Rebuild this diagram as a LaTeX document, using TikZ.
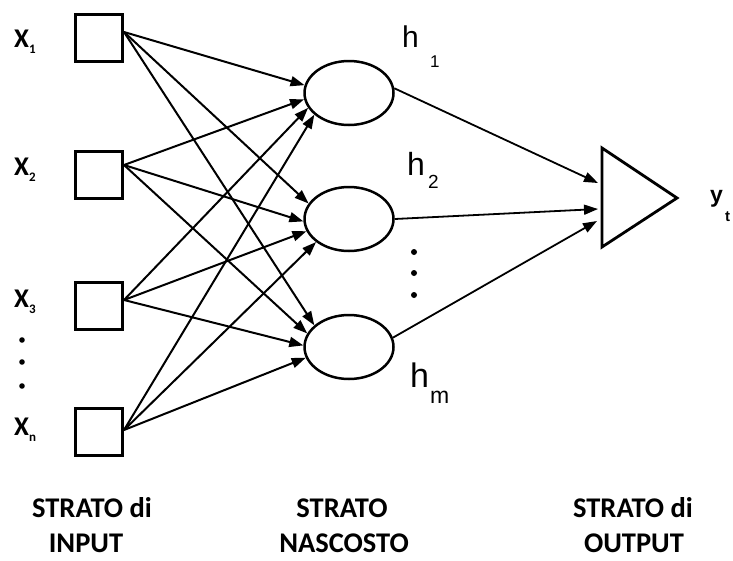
\documentclass[tikz,border=0pt]{standalone}
\usepackage{fontspec}
\usetikzlibrary{arrows.meta,shapes.geometric}
\newfontfamily\labfont{Carlito}
\newfontfamily\hfont{Liberation Sans}
\begin{document}
\begin{tikzpicture}[x=1pt,y=-1pt,
  inbox/.style={draw, line width=3pt, minimum size=47pt, inner sep=0pt},
  hid/.style={draw, ellipse, line width=2.5pt, minimum width=89pt, minimum height=64pt, inner sep=0pt},
  tip/.style={-{Triangle[length=14pt,width=10pt]}},
  wire/.style={line width=2pt, tip},
  outwire/.style={line width=1.8pt, tip},
  xlab/.style={anchor=base west, inner sep=0pt, font=\labfont\bfseries\fontsize{27}{27}\selectfont},
  layer/.style={anchor=base, inner sep=0pt, font=\labfont\bfseries\fontsize{28.5}{28.5}\selectfont},
  hlab/.style={anchor=base west, inner sep=0pt, font=\hfont\fontsize{#1}{#1}\selectfont},
  dot/.style={fill=black}
]
\useasboundingbox (0,0) rectangle (733,560);

% input layer
\node[inbox] (s1) at (99,37.5) {};
\node[inbox] (s2) at (99,175) {};
\node[inbox] (s3) at (99,306) {};
\node[inbox] (sn) at (99,432) {};

\newcommand{\subx}[1]{\raisebox{-6pt}{\fontsize{13}{13}\selectfont #1}}
\node[xlab] (x1) at (14,47) {X\subx{1}};
\node[xlab] (x2) at (14,175) {X\subx{2}};
\node[xlab] (x3) at (14,307) {X\subx{3}};
\node[xlab] (xn) at (14,435) {X\subx{n}};
\fill[dot] (22,340) circle (2.8) (22,362) circle (2.8) (22,386) circle (2.8);

% hidden layer
\node[hid] (h1) at (349,93) {};
\node[hid] (h2) at (349,219) {};
\node[hid] (h3) at (349,347) {};

\node[hlab=30] (l1) at (402,47) {h};
\node[hlab=17] (l1s) at (430,67) {1};
\node[hlab=32] (l2) at (407,175) {h};
\node[hlab=19] (l2s) at (428,188) {2};
\node[hlab=34] (lm) at (410,387) {h};
\node[hlab=23] (lms) at (430,403) {m};
\fill[dot] (414,252) circle (3) (414,273) circle (3) (414,295) circle (3);

% output unit
\draw[line width=2.8pt, line join=miter] (602,148) -- (677,198) -- (602,247) -- cycle;
\coordinate (o1) at (598,183);
\coordinate (o2) at (598,209);
\coordinate (o3) at (597,221);
\node[anchor=base west, inner sep=0pt, font=\hfont\bfseries\fontsize{23}{23}\selectfont] (yl) at (710,202) {y};
\node[anchor=base west, inner sep=0pt, font=\hfont\bfseries\fontsize{15}{15}\selectfont] (yls) at (725,221) {t};

% input -> hidden connections
\draw[wire] ([yshift=5.5pt]s1.east) -- (h1.170);
\draw[wire] ([yshift=5.5pt]s1.east) -- (h2.159);
\draw[wire] ([yshift=5.5pt]s1.east) -- (h3.148);
\draw[wire] ([yshift=10pt]s2.east) -- (h1.188);
\draw[wire] ([yshift=10pt]s2.east) -- (h2.183);
\draw[wire] ([yshift=10pt]s2.east) -- (h3.162);
\draw[wire] ([yshift=6pt]s3.east) -- (h1.200);
\draw[wire] ([yshift=6pt]s3.east) -- (h2.196);
\draw[wire] ([yshift=6pt]s3.east) -- (h3.178);
\draw[wire] ([yshift=2pt]sn.east) -- (h1.212);
\draw[wire] ([yshift=2pt]sn.east) -- (h2.215);
\draw[wire] ([yshift=2pt]sn.east) -- (h3.194);

% hidden -> output connections
\draw[outwire] (h1.6) -- (o1);
\draw[outwire] (h2.east) -- (o2);
\draw[outwire] (h3.12) -- (o3);

% layer captions
\node[layer] (c1a) at (92,517) {STRATO di};
\node[layer] (c1b) at (86,552) {INPUT};
\node[layer] (c2a) at (342,517) {STRATO};
\node[layer] (c2b) at (344,552) {NASCOSTO};
\node[layer] (c3a) at (633,517) {STRATO di};
\node[layer] (c3b) at (634,552) {OUTPUT};
\end{tikzpicture}
\end{document}
